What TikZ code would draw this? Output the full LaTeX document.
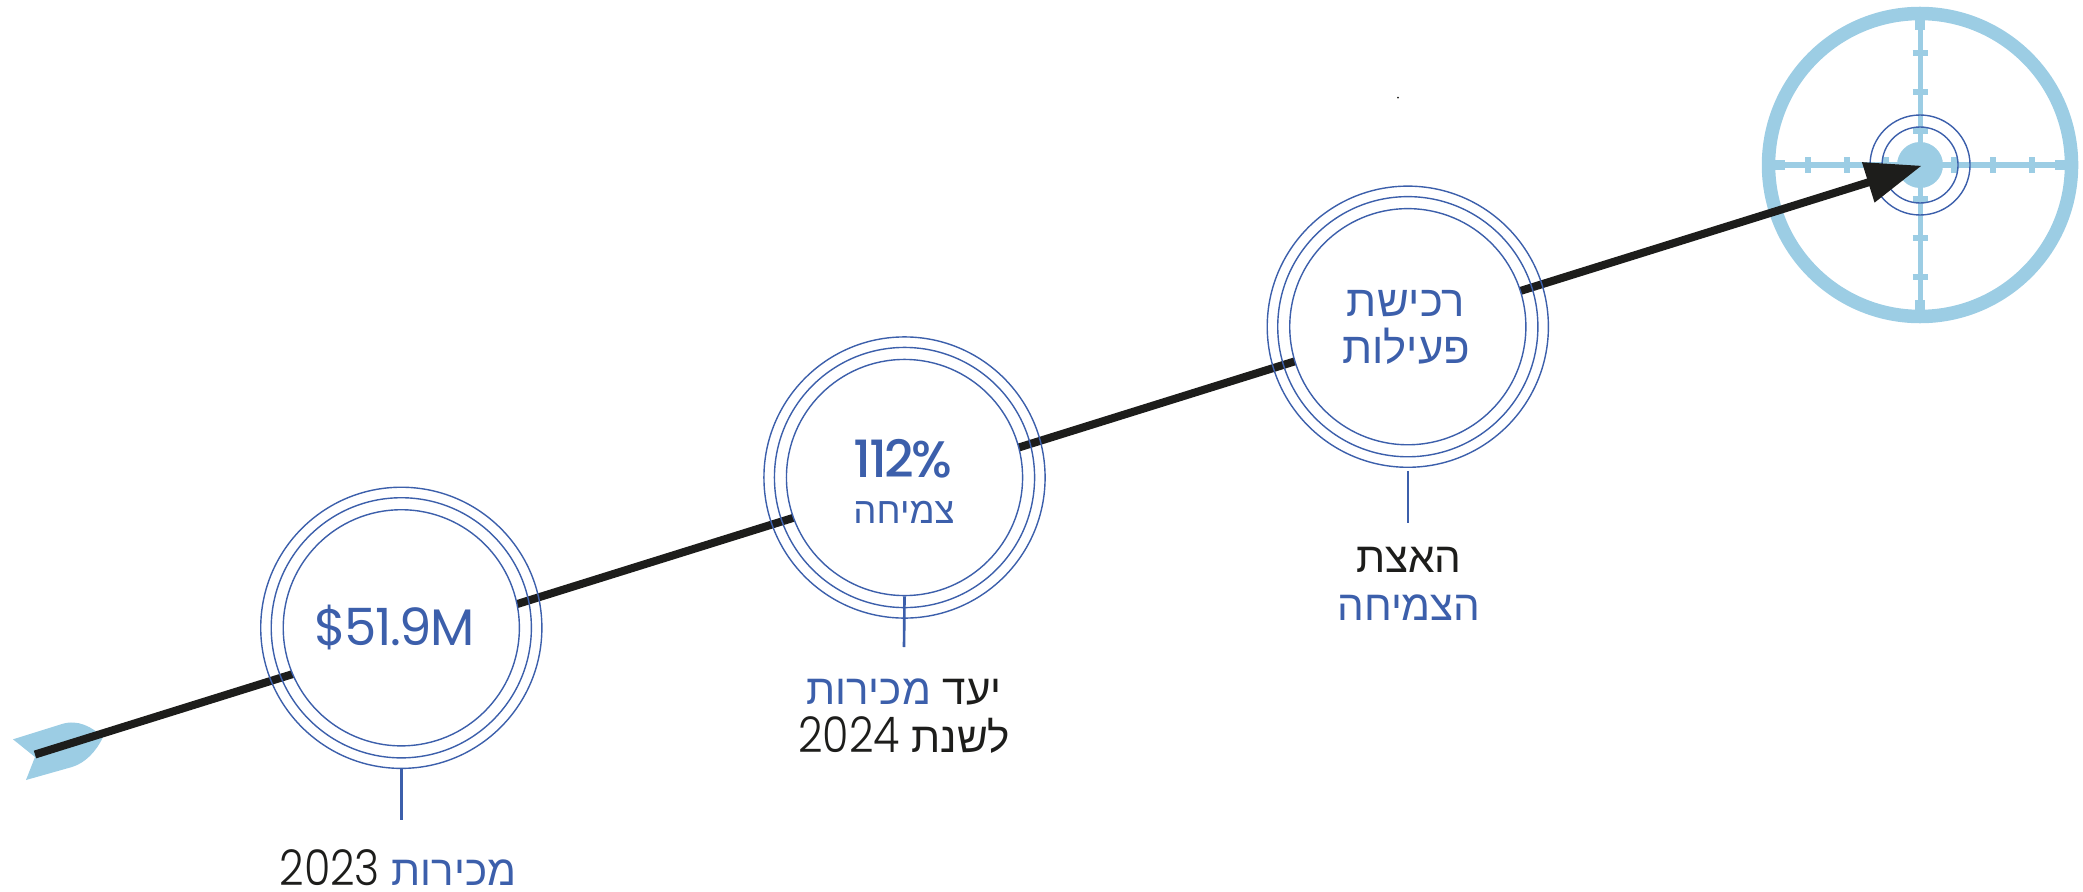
\documentclass[tikz,border=0pt]{standalone}
\usepackage{fontspec}
\usetikzlibrary{arrows.meta}
\TeXXeTstate=1
\newfontfamily\hebfont[Script=Hebrew]{Liberation Sans}
\newfontfamily\numfont[FakeStretch=0.87]{Poppins Light}
\newfontfamily\valuefont[LetterSpace=-3]{Poppins}
\newfontfamily\pctfont[LetterSpace=-5]{Poppins Medium}
\definecolor{ringblue}{HTML}{3C5FAB}
\definecolor{skyblue}{HTML}{9CCDE4}
\definecolor{inkblack}{HTML}{1D1D1B}
\tikzstyle{ringline} = [circle, inner sep=0pt, draw=ringblue, line width=0.14mm]
\tikzstyle{outerring} = [ringline, minimum size=2.81cm]
\tikzstyle{midring} = [ringline, minimum size=2.6cm]
\tikzstyle{innerring} = [ringline, minimum size=2.36cm, fill=white]
\tikzstyle{stem} = [draw=ringblue, line width=0.75pt]
\tikzstyle{shaft} = [draw=inkblack, line width=0.08cm, -{Triangle[length=0.56cm,width=0.4cm]}]
\tikzstyle{sight} = [draw=skyblue, line width=0.05cm]
\tikzstyle{sightend} = [draw=skyblue, line width=0.1cm]
\tikzstyle{sighttick} = [draw=skyblue, line width=0.055cm]
\tikzstyle{label} = [anchor=base, align=center, inner sep=0pt, text=inkblack, font=\hebfont\fontsize{12}{13.4}\selectfont]
\tikzstyle{inlabel} = [anchor=base, align=center, inner sep=0pt, text=ringblue, font=\hebfont\fontsize{12.4}{13.1}\selectfont]
\newcommand{\heb}[1]{\beginR #1\endR}
\newcommand{\yr}[1]{{\numfont\fontsize{14}{13.4}\selectfont #1}}
\begin{document}
\begin{tikzpicture}[x=0.01cm, y=-0.01cm]
	\useasboundingbox (0,0) rectangle (2083,891);
	\coordinate (tail) at (35,754.5);
	\coordinate (tip) at (1921.7,165.7);
	\coordinate (sightc) at (1920,165);
	% fletching
	\fill [skyblue] (13,739.3) -- (62,724) .. controls (78,719) and (92,727) .. (103,737) .. controls (96,752) and (85,763) .. (72,767) -- (26,780) -- (35,757) -- cycle;
	% sight
	\draw [sight, line width=0.135cm] (sightc) circle (151.5);
	\draw [sight] (1775,165) -- (2065,165);
	\draw [sight] (1920,20) -- (1920,310);
	\draw [sightend] (1775,165) -- (1785,165);
	\draw [sightend] (2055,165) -- (2065,165);
	\draw [sightend] (1920,20) -- (1920,30);
	\draw [sightend] (1920,300) -- (1920,310);
	\foreach \d in {34,73,112} {
		\draw [sighttick] (1920-\d,157.5) -- (1920-\d,172.5);
		\draw [sighttick] (1920+\d,157.5) -- (1920+\d,172.5);
		\draw [sighttick] (1912.5,165-\d) -- (1927.5,165-\d);
		\draw [sighttick] (1912.5,165+\d) -- (1927.5,165+\d);
	}
	\fill [skyblue] (sightc) circle (23);
	\draw [draw=ringblue, line width=0.14mm] (sightc) circle (38);
	\draw [draw=ringblue, line width=0.14mm] (sightc) circle (50);
	\fill [inkblack] (1398,97.7) circle (1);
	% arrow
	\draw [shaft] (tail) -- (tip);
	% target nodes
	\node (salesout) [outerring] at (401.3,627.8) {};
	\node (salesmid) [midring] at (401.3,627.8) {};
	\node (sales) [innerring] at (401.3,627.8) {};
	\node (growthout) [outerring] at (904.5,477.5) {};
	\node (growthmid) [midring] at (904.5,477.5) {};
	\node (growth) [innerring] at (904.5,477.5) {};
	\node (buyout) [outerring] at (1407.8,326.7) {};
	\node (buymid) [midring] at (1407.8,326.7) {};
	\node (buy) [innerring] at (1407.8,326.7) {};
	\node (salestxt) [inlabel, text=ringblue] at (394.6,645) {\valuefont\fontsize{14.6}{15}\selectfont\$51.9M};
	\node (pcttxt) [inlabel] at (903,477) {\pctfont\fontsize{14.6}{15}\selectfont 112\%};
	\node (growthtxt) [inlabel] at (904,523) {\fontsize{10.4}{13}\selectfont\heb{צמיחה}};
	\node (buytxt) [inlabel] at (1406,363) {\heb{רכישת}\\\heb{פעילות}};
	% stems and captions
	\coordinate (salesend) at (401.3,820);
	\coordinate (growthend) at (904,647);
	\coordinate (buyend) at (1407.8,522.7);
	\draw [stem] (salesout.south) -- (salesend);
	\draw [stem] (growth.south) -- (growthend);
	\draw [stem] ([yshift=-0.03cm]buyout.south) -- (buyend);
	\node (salescap) [label] at (398,885) {\yr{2023} \textcolor{ringblue}{\heb{מכירות}}};
	\node (growthcap) [label] at (904,752) {\textcolor{ringblue}{\heb{מכירות}} \heb{יעד}\\\yr{2024} \heb{לשנת}};
	\node (buycap) [label] at (1409,620) {\heb{האצת}\\\textcolor{ringblue}{\heb{הצמיחה}}};
\end{tikzpicture}
\end{document}
